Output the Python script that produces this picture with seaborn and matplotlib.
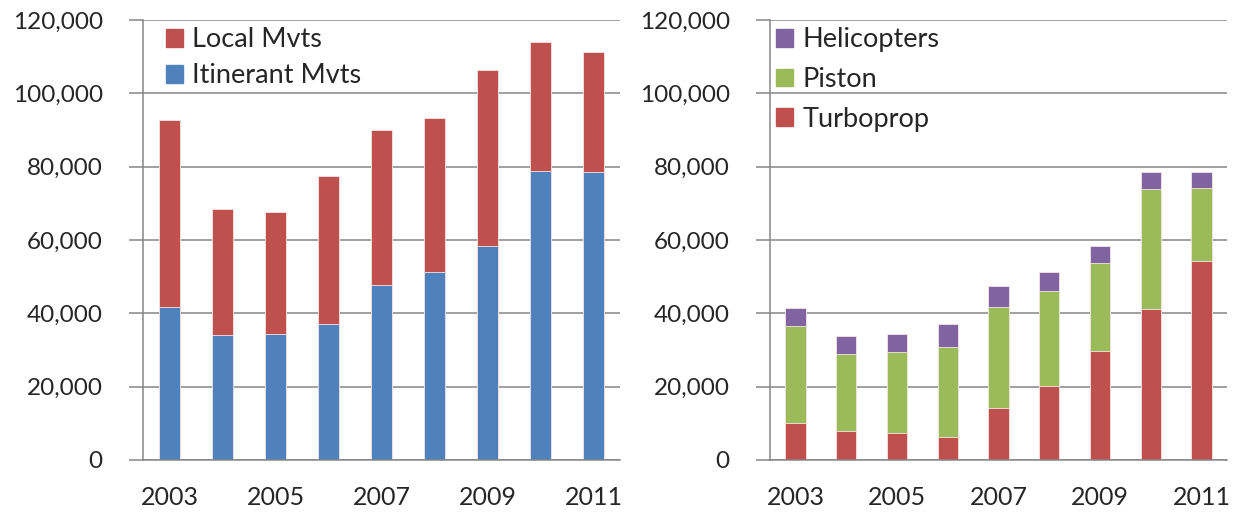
import numpy as np
import pandas as pd
import seaborn as sns
import matplotlib.pyplot as plt
from matplotlib.patches import Patch
from matplotlib.ticker import FuncFormatter, FixedLocator

years = ['2003', '2004', '2005', '2006', '2007', '2008', '2009', '2010', '2011']
year_labels = ['2003', '', '2005', '', '2007', '', '2009', '', '2011']

# left chart: movements
itinerant = [41600, 34000, 34500, 37000, 47600, 51300, 58400, 78700, 78500]
local = [51100, 34400, 33200, 40500, 42500, 41900, 48000, 35300, 32800]

# right chart: itinerant movements by aircraft type
turboprop = [10000, 8000, 7450, 6200, 14300, 20100, 29700, 41300, 54300]
piston = [26600, 20900, 21950, 24600, 27500, 26000, 23900, 32500, 20000]
helicopters = [4900, 5000, 5100, 6200, 5700, 5100, 4700, 4800, 4200]

BLUE = '#4F81BD'
RED = '#C0504D'
GREEN = '#9BBB59'
PURPLE = '#8064A2'
GRID = '#868686'

sns.set_style('white')
plt.rcParams['font.family'] = ['Lato', 'DejaVu Sans']

df = pd.DataFrame({'year': years, 'itinerant': itinerant, 'local': local,
                   'turbo': turboprop, 'piston': piston, 'heli': helicopters})
df['total_left'] = df['itinerant'] + df['local']
df['tp'] = df['turbo'] + df['piston']
df['total_right'] = df['tp'] + df['heli']

fig = plt.figure(figsize=(12.41, 5.16), dpi=100)
ax1 = fig.add_axes([143 / 1241, 56 / 516, 477 / 1241, 440 / 516])
ax2 = fig.add_axes([770 / 1241, 56 / 516, 457 / 1241, 440 / 516])

edge = dict(edgecolor='#f4e6e6', linewidth=0.6)

sns.barplot(data=df, x='year', y='total_left', color=RED, width=0.4, saturation=1, ax=ax1, zorder=3, **edge)
sns.barplot(data=df, x='year', y='itinerant', color=BLUE, width=0.4, saturation=1, ax=ax1, zorder=3, **edge)

sns.barplot(data=df, x='year', y='total_right', color=PURPLE, width=0.4, saturation=1, ax=ax2, zorder=3, **edge)
sns.barplot(data=df, x='year', y='tp', color=GREEN, width=0.4, saturation=1, ax=ax2, zorder=3, **edge)
sns.barplot(data=df, x='year', y='turbo', color=RED, width=0.4, saturation=1, ax=ax2, zorder=3, **edge)

FS = 18
LFS = 19.5

for ax in (ax1, ax2):
    ax.set_ylim(0, 120000)
    ax.set_xlim(-0.5, len(years) - 0.5)
    ax.set_yticks(np.arange(0, 120001, 20000))
    ax.yaxis.set_major_formatter(FuncFormatter(lambda v, p: f'{int(v):,}'))
    ax.set_xticks(range(len(years)))
    ax.set_xticklabels(year_labels)
    ax.xaxis.set_minor_locator(FixedLocator(np.arange(-0.5, len(years), 1.0)))
    ax.tick_params(axis='x', which='major', length=0, pad=19, labelsize=FS)
    ax.tick_params(axis='x', which='minor', length=7, width=1.1, color=GRID, direction='out')
    ax.tick_params(axis='y', length=10, width=1.1, color=GRID, pad=19, labelsize=17.5, left=True)
    ax.grid(axis='y', color=GRID, linewidth=1.1, zorder=0)
    ax.set_axisbelow(True)
    ax.set_xlabel('')
    ax.set_ylabel('')
    for s in ('top', 'right'):
        ax.spines[s].set_visible(False)
    for s in ('left', 'bottom'):
        ax.spines[s].set_color(GRID)
        ax.spines[s].set_linewidth(1.1)
        ax.spines[s].set_zorder(4)

leg_kw = dict(loc='upper left', frameon=False, fontsize=LFS, handlelength=0.63, handleheight=0.63,
              handletextpad=0.35, borderaxespad=0, borderpad=0)

ax1.legend(handles=[Patch(color=RED, label='Local Mvts'), Patch(color=BLUE, label='Itinerant Mvts')],
           bbox_to_anchor=(0.048, 0.983), labelspacing=0.40, **leg_kw)
ax2.legend(handles=[Patch(color=PURPLE, label='Helicopters'), Patch(color=GREEN, label='Piston'),
                    Patch(color=RED, label='Turboprop')],
           bbox_to_anchor=(0.014, 0.983), labelspacing=0.54, **leg_kw)

fig.savefig('out.png', dpi=100)
